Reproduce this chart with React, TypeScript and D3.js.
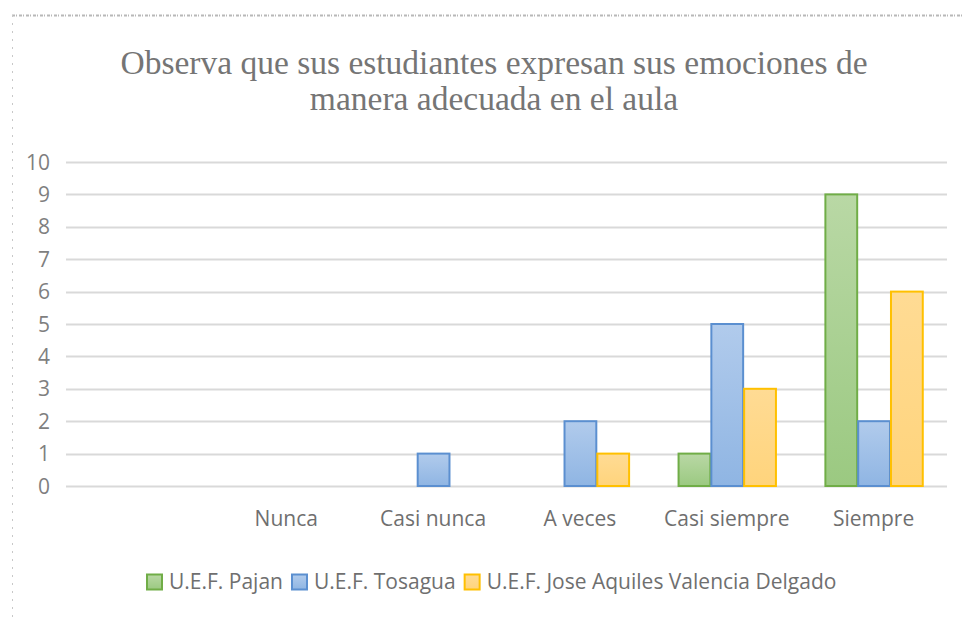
import React, { useRef, useEffect } from "react";
import * as d3 from "d3";

const categories = ["", "Nunca", "Casi nunca", "A veces", "Casi siempre", "Siempre"];
const series = ["U.E.F. Pajan", "U.E.F. Tosagua", "U.E.F. Jose Aquiles Valencia Delgado"];
const pajan = [0, 0, 0, 0, 1, 9];
const tosagua = [0, 0, 1, 2, 5, 2];
const joseAquiles = [0, 0, 0, 1, 3, 6];
const yTicks = [0, 1, 2, 3, 4, 5, 6, 7, 8, 9, 10];
const titleLines = [
  "Observa que sus estudiantes expresan sus emociones de",
  "manera adecuada en el aula",
];

const colors = [
  { top: "#b9d8a5", bottom: "#9bc981", stroke: "#70ad47" },
  { top: "#b1cbec", bottom: "#8fb5e3", stroke: "#5b8fd0" },
  { top: "#ffdb94", bottom: "#ffd47c", stroke: "#ffc000" },
];

const App = () => {
  const svgRef = useRef<SVGSVGElement>(null);

  useEffect(() => {
    const svg = d3.select(svgRef.current);
    svg.selectAll("*").remove();

    const width = 964;
    const height = 617;
    const margin = { top: 162, right: 17, bottom: 131, left: 66 };
    const values = [pajan, tosagua, joseAquiles];
    const font = "'Open Sans', sans-serif";
    const textColor = "#6f6f6f";

    // gradients for the bars
    const defs = svg.append("defs");
    colors.forEach((c, i) => {
      const g = defs
        .append("linearGradient")
        .attr("id", "grad" + i)
        .attr("x1", 0)
        .attr("y1", 0)
        .attr("x2", 0)
        .attr("y2", 1);
      g.append("stop").attr("offset", "0%").attr("stop-color", c.top);
      g.append("stop").attr("offset", "100%").attr("stop-color", c.bottom);
    });

    svg.append("rect").attr("width", width).attr("height", height).attr("fill", "#fff");

    // scanned page edges
    svg
      .append("line")
      .attr("x1", 12)
      .attr("x2", 964)
      .attr("y1", 15.5)
      .attr("y2", 15.5)
      .attr("stroke", "#b8b8b8")
      .attr("stroke-width", 2)
      .attr("stroke-dasharray", "3 1 1 2");
    svg
      .append("line")
      .attr("x1", 12.5)
      .attr("x2", 12.5)
      .attr("y1", 15)
      .attr("y2", 617)
      .attr("stroke", "#c8c8c8")
      .attr("stroke-width", 1)
      .attr("stroke-dasharray", "2 6");

    const x = d3
      .scaleBand()
      .domain(categories.map((d, i) => String(i)))
      .range([margin.left, width - margin.right])
      .paddingInner(0.33)
      .paddingOuter(0.165);
    const x1 = d3
      .scaleBand()
      .domain(series)
      .range([0, x.bandwidth()]);
    const y = d3
      .scaleLinear()
      .domain([0, 10])
      .range([height - margin.bottom, margin.top]);

    // title
    const title = svg
      .append("text")
      .attr("text-anchor", "middle")
      .attr("font-family", "'Liberation Serif', serif")
      .attr("font-size", 33.5)
      .attr("fill", "#757575");
    titleLines.forEach((t, i) => {
      title
        .append("tspan")
        .attr("x", 494)
        .attr("y", 74 + i * 36)
        .text(t);
    });

    // gridlines
    svg
      .append("g")
      .selectAll("line")
      .data(yTicks)
      .join("line")
      .attr("x1", margin.left)
      .attr("x2", width - margin.right)
      .attr("y1", (d) => Math.round(y(d)) + 0.5)
      .attr("y2", (d) => Math.round(y(d)) + 0.5)
      .attr("stroke", "#d9d9d9")
      .attr("stroke-width", 2);

    // y labels
    svg
      .append("g")
      .selectAll("text")
      .data(yTicks)
      .join("text")
      .attr("x", 50)
      .attr("y", (d) => y(d) + 7.5)
      .attr("text-anchor", "end")
      .attr("font-family", font)
      .attr("font-size", 21)
      .attr("fill", "#7f7f7f")
      .text((d) => d);

    // x labels
    svg
      .append("g")
      .selectAll("text")
      .data(categories)
      .join("text")
      .attr("x", (d, i) => x(String(i))! + x.bandwidth() / 2)
      .attr("y", 525.5)
      .attr("text-anchor", "middle")
      .attr("font-family", font)
      .attr("font-size", 21)
      .attr("fill", textColor)
      .text((d) => d);

    // bars
    series.forEach((s, si) => {
      svg
        .append("g")
        .selectAll("rect")
        .data(values[si].map((v, i) => ({ v, i })).filter((d) => d.v > 0))
        .join("rect")
        .attr("x", (d) => x(String(d.i))! + x1(s)! + 1)
        .attr("y", (d) => y(d.v))
        .attr("width", x1.bandwidth() - 1)
        .attr("height", (d) => y(0) - y(d.v))
        .attr("fill", `url(#grad${si})`)
        .attr("stroke", colors[si].stroke)
        .attr("stroke-width", 2);
    });

    // legend
    const legend = svg.append("g").attr("font-family", font).attr("font-size", 21);
    let lx = 147;
    series.forEach((s, si) => {
      const item = legend.append("g").attr("transform", `translate(${lx},0)`);
      item
        .append("rect")
        .attr("x", 0)
        .attr("y", 574.5)
        .attr("width", 15)
        .attr("height", 15)
        .attr("fill", `url(#grad${si})`)
        .attr("stroke", colors[si].stroke)
        .attr("stroke-width", 2);
      const t = item
        .append("text")
        .attr("x", 22)
        .attr("y", 589)
        .attr("fill", textColor)
        .text(s);
      const w = (t.node() as SVGTextElement).getComputedTextLength();
      lx += 22 + w + 9;
    });
  }, []);

  return (
    <svg
      ref={svgRef}
      width={964}
      height={617}
      style={{ position: "absolute", left: 0, top: 0, display: "block" }}
    ></svg>
  );
};

export default App;
